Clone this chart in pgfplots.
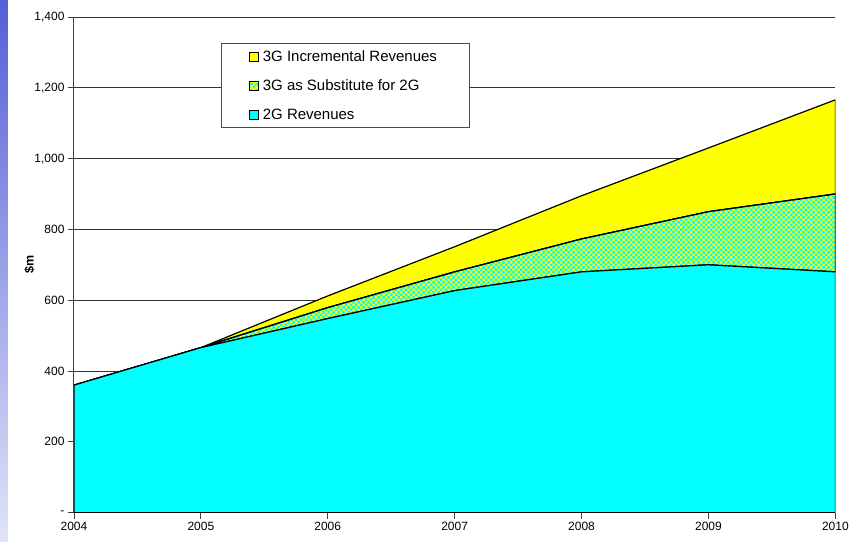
\documentclass[border=0pt]{standalone}
\usepackage{fontspec}
\setmainfont{Liberation Sans}
\usepackage{pgfplots}
\pgfplotsset{compat=1.18}
\usetikzlibrary{patterns}
\pgfdeclarepatternformonly{finecheck}{\pgfpointorigin}{\pgfqpoint{5.4bp}{5.4bp}}{\pgfqpoint{5.4bp}{5.4bp}}{%
  \pgfpathrectangle{\pgfpointorigin}{\pgfqpoint{2.7bp}{2.7bp}}%
  \pgfpathrectangle{\pgfqpoint{2.7bp}{2.7bp}}{\pgfqpoint{2.7bp}{2.7bp}}%
  \pgfusepath{fill}}
\definecolor{cyanA}{RGB}{0,255,255}
\definecolor{yelA}{RGB}{255,255,0}
\definecolor{stripT}{RGB}{85,95,215}
\definecolor{stripB}{RGB}{225,228,248}
\begin{document}
\begin{tikzpicture}
\path (-74bp,-29bp) rectangle (778bp,513bp);
\shade[top color=stripT, bottom color=stripB] (-74bp,-29bp) rectangle (-66bp,513bp);
\begin{axis}[
  axis on top=false,
  at={(0,0)}, anchor=south west,
  scale only axis, width=762bp, height=496bp,
  xmin=2004, xmax=2010, ymin=0, ymax=1400,
  xtick={2004,2005,2006,2007,2008,2009,2010},
  xticklabels={2004,2005,2006,2007,2008,2009,2010},
  ytick={0,200,400,600,800,1000,1200,1400},
  yticklabels={-,200,400,600,800,{1,000},{1,200},{1,400}},
  tick label style={font=\fontsize{12bp}{14bp}\selectfont},
  tick align=outside, major tick length=6bp,
  tick style={black!75, line width=0.8pt},
  axis x line*=bottom, axis y line*=left,
  axis line style={black!75, line width=1pt},
  ymajorgrids, grid style={black!80, line width=0.6pt},
  ylabel={\textbf{\$m}}, ylabel style={font=\fontsize{12.5bp}{14bp}\selectfont, at={(axis description cs:-0.047,0.5)}},
  stack plots=y, area legend,
  every axis plot/.append style={draw=black, line width=1.2pt, no marks, sharp plot},
  legend cell align=left,
  reverse legend,
  legend image code/.code={\draw[#1, draw=black, line width=0.6pt] (0bp,-4.5bp) rectangle (9bp,4.5bp);},
  legend style={at={(0.193,0.948)}, anchor=north west, draw=black!70, line width=0.8pt,
    font=\fontsize{15bp}{17bp}\selectfont, inner xsep=28bp, inner ysep=5bp, row sep=13bp,
    nodes={inner xsep=4bp}},
]
\addplot[fill=cyanA] coordinates {(2004,360) (2005,466) (2006,548) (2007,627) (2008,680) (2009,700) (2010,680)} \closedcycle;
\addlegendentry{2G Revenues}
\addplot[fill=yelA, postaction={pattern=finecheck, pattern color=cyanA}] coordinates {(2004,0) (2005,0) (2006,31) (2007,53) (2008,93) (2009,150) (2010,220)} \closedcycle;
\addlegendentry{3G as Substitute for 2G}
\addplot[fill=yelA] coordinates {(2004,0) (2005,0) (2006,33) (2007,71) (2008,122) (2009,180) (2010,266)} \closedcycle;
\addlegendentry{3G Incremental Revenues}
\end{axis}
\end{tikzpicture}
\end{document}
